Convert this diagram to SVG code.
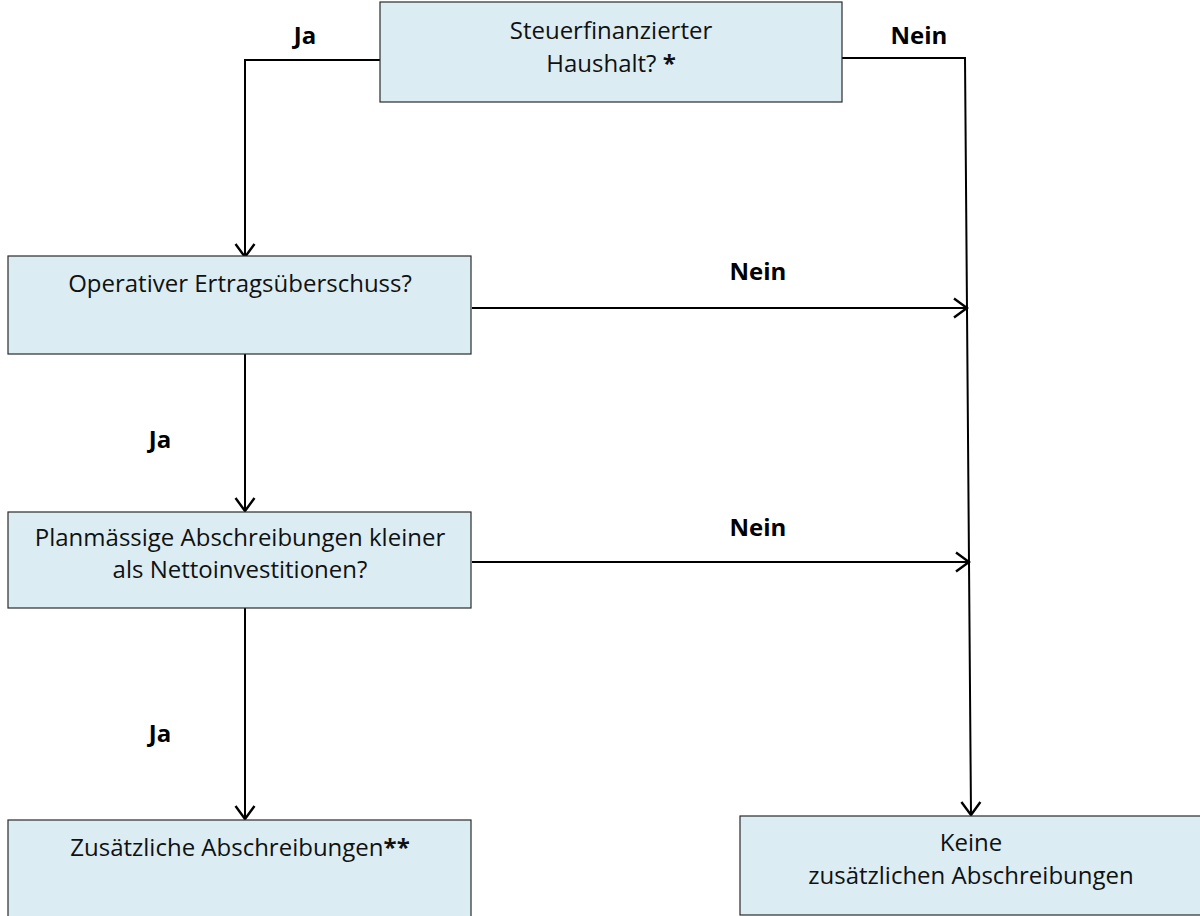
<svg xmlns="http://www.w3.org/2000/svg" width="1200" height="916" viewBox="0 0 1200 916">
<style>
.box{fill:#DBEDF3;stroke:#2a2a2a;stroke-width:1.2}
.t{font-family:"Open Sans","Noto Sans",sans-serif;font-size:24px;fill:#111;text-anchor:middle}
.lbl{font-family:"Open Sans","Noto Sans",sans-serif;font-size:24px;font-weight:bold;fill:#000;text-anchor:middle}
.c{fill:none;stroke:#000;stroke-width:2}
</style>
<defs>
<marker id="arr" markerUnits="userSpaceOnUse" viewBox="-14 -11 16 22" refX="0" refY="0" markerWidth="16" markerHeight="22" orient="auto">
<path d="M-13,-9.5 L0,0 L-13,9.5" fill="none" stroke="#000" stroke-width="2.4"/>
</marker>
</defs>
<rect width="1200" height="916" fill="#fff"/>
<g id="connectors">
<polyline class="c" points="380,60 245,60 245,257" marker-end="url(#arr)"/>
<polyline class="c" points="842,58 965,58 971,815" marker-end="url(#arr)"/>
<line class="c" x1="472" y1="308" x2="967" y2="308" marker-end="url(#arr)"/>
<line class="c" x1="245" y1="354" x2="245" y2="511" marker-end="url(#arr)"/>
<line class="c" x1="472" y1="562" x2="969" y2="562" marker-end="url(#arr)"/>
<line class="c" x1="245" y1="608" x2="245" y2="819" marker-end="url(#arr)"/>
<text class="lbl" x="305" y="44">Ja</text>
<text class="lbl" x="919" y="44">Nein</text>
<text class="lbl" x="758" y="280">Nein</text>
<text class="lbl" x="160" y="448">Ja</text>
<text class="lbl" x="758" y="536">Nein</text>
<text class="lbl" x="160" y="742">Ja</text>
</g>
<g id="n1">
<rect class="box" x="380" y="2" width="462" height="100"/>
<text class="t" x="611" y="39">Steuerfinanzierter</text>
<text class="t" x="611" y="72">Haushalt? <tspan font-weight="bold">*</tspan></text>
</g>
<g id="n2">
<rect class="box" x="8" y="256" width="463" height="98"/>
<text class="t" x="240" y="292">Operativer Ertragsüberschuss?</text>
</g>
<g id="n3">
<rect class="box" x="8" y="512" width="463" height="96"/>
<text class="t" x="240" y="546">Planmässige Abschreibungen kleiner</text>
<text class="t" x="240" y="578">als Nettoinvestitionen?</text>
</g>
<g id="n4">
<rect class="box" x="8" y="820" width="463" height="100"/>
<text class="t" x="240" y="856">Zusätzliche Abschreibungen<tspan font-weight="bold">**</tspan></text>
</g>
<g id="n5">
<rect class="box" x="740" y="816" width="462" height="99"/>
<text class="t" x="971" y="851">Keine</text>
<text class="t" x="971" y="884">zusätzlichen Abschreibungen</text>
</g>
</svg>
